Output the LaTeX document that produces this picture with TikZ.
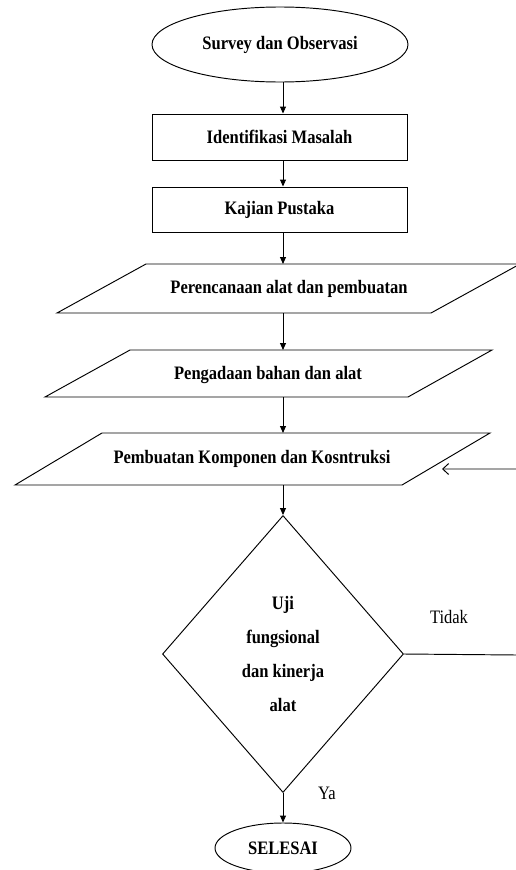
\documentclass[tikz,border=0pt]{standalone}
\usepackage{fontspec}
\setmainfont{Liberation Serif}[FakeStretch=0.87]
\usetikzlibrary{shapes.geometric,arrows.meta}
\begin{document}
\begin{tikzpicture}[x=1pt,y=-1pt,line width=0.95pt,
  lbl/.style={font=\fontsize{19}{23}\selectfont\bfseries,inner sep=0pt},
  plain/.style={font=\fontsize{19}{23}\selectfont,inner sep=0pt},
  boxnode/.style={draw,rectangle,lbl,minimum width=255pt},
  arr/.style={-{Triangle[length=7pt,width=6pt]}},
  fb/.style={-{Straight Barb[length=6pt,width=11pt]}}]
\useasboundingbox (0,0) rectangle (516,870);

% start
\node[ellipse,draw,minimum width=256pt,minimum height=75pt,lbl] (s) at (280,44.5) {Survey dan Observasi};

% boxes
\node[boxnode,minimum height=46pt] (b1) at (279.5,137) {Identifikasi Masalah};
\node[boxnode,minimum height=45pt] (b2) at (279.5,209.5) {Kajian Pustaka};

% parallelograms
\draw (146,264) -- (520,264) -- (431,313) -- (57,313) -- cycle;
\node[lbl] (t1) at (289,289) {Perencanaan alat dan pembuatan};
\coordinate (p1t) at (283,264);
\coordinate (p1b) at (283,313);

\draw (130,350) -- (492,350) -- (408,397) -- (45,397) -- cycle;
\node[lbl] (t2) at (268,375) {Pengadaan bahan dan alat};
\coordinate (p2t) at (283,350);
\coordinate (p2b) at (283,397);

\draw (102,433) -- (490,433) -- (402,485) -- (15,485) -- cycle;
\node[lbl] (t3) at (252,459) {Pembuatan Komponen dan Kosntruksi};
\coordinate (p3t) at (283,433);
\coordinate (p3b) at (283,485);

% decision
\node[diamond,draw,minimum width=241pt,minimum height=277pt,inner sep=0pt,align=center,
      font=\fontsize{19}{34}\selectfont\bfseries] (d) at (283,654) {Uji\\fungsional\\dan kinerja\\alat};

% end
\node[ellipse,draw,minimum width=136pt,minimum height=50pt,lbl] (e) at (283,848) {SELESAI};

% labels
\node[plain] (tidak) at (449,617) {Tidak};
\node[plain] (ya) at (327,793) {Ya};

% connectors
\draw[arr] ([xshift=3pt]s.south) -- ([xshift=3.5pt]b1.north);
\draw[arr] ([xshift=3.5pt]b1.south) -- ([xshift=3.5pt]b2.north);
\draw[arr] ([xshift=3.5pt]b2.south) -- (p1t);
\draw[arr] (p1b) -- (p2t);
\draw[arr] (p2b) -- (p3t);
\draw[arr] (p3b) -- (d.north);
\draw[arr] (d.south) -- (e.north);

\coordinate (fr) at (517,655);
\coordinate (fa) at (517,469);
\coordinate (fin) at (442,469);
\draw[fb] (d.east) -- (fr) -- (fa) -- (fin);
\end{tikzpicture}
\end{document}
